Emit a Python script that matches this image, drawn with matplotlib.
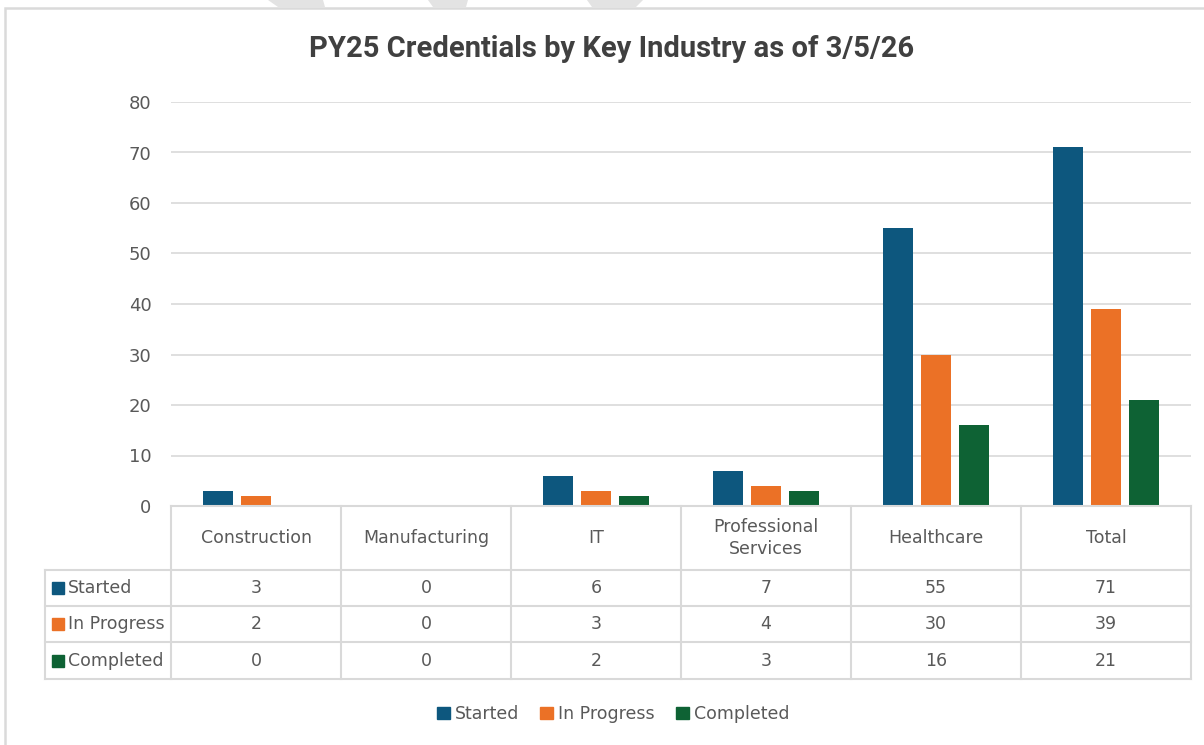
import matplotlib
matplotlib.use("Agg")
import matplotlib.pyplot as plt
from matplotlib.patches import Patch, Rectangle, Polygon
import numpy as np

categories = ["Construction", "Manufacturing", "IT", "Professional\nServices", "Healthcare", "Total"]
series_names = ["Started", "In Progress", "Completed"]
started = [3, 0, 6, 7, 55, 71]
in_progress = [2, 0, 3, 4, 30, 39]
completed = [0, 0, 2, 3, 16, 21]
yticks = [0, 10, 20, 30, 40, 50, 60, 70, 80]
title = "PY25 Credentials by Key Industry as of 3/5/26"

colors = ["#0D577E", "#EB7126", "#0E6234"]
text_color = "#595959"
grid_color = "#D9D9D9"
series = [started, in_progress, completed]

W, H = 1204, 745
fig = plt.figure(figsize=(W / 100, H / 100), dpi=100)
fig.patch.set_facecolor("white")

def fx(px):
    return px / W

def fy(py):
    return 1 - py / H

# faint watermark fragments above the chart frame
for pts in [[(268, 0), (323, 0), (325, 7), (278, 7)],
            [(428, 0), (468, 0), (466, 7), (433, 7)],
            [(587, 0), (643, 0), (636, 7), (592, 7)]]:
    fig.patches.append(Polygon([(fx(a), fy(b)) for a, b in pts], closed=True,
                               transform=fig.transFigure, facecolor="#E3E3E3", edgecolor="none"))

# chart border
border = Rectangle((fx(5), fy(760)), fx(1215) - fx(5), fy(8) - fy(760), transform=fig.transFigure,
                   fill=False, edgecolor="#DADADA", linewidth=1.8)
fig.patches.append(border)

# plot area
left_px, right_px, top_px, bot_px = 171, 1191, 102, 506
ax = fig.add_axes([fx(left_px), fy(bot_px), fx(right_px) - fx(left_px), fy(top_px) - fy(bot_px)])
n = len(categories)
x = np.arange(n) + 0.5
bw = 0.176
offs = [-0.224, 0.0, 0.224]
for s, vals, c, o in zip(series_names, series, colors, offs):
    ax.bar(x + o, vals, width=bw, color=c, zorder=3, label=s)
ax.set_xlim(0, n)
ax.set_ylim(0, 80)
ax.set_yticks(yticks)
ax.set_xticks([])
ax.tick_params(axis="y", length=0, pad=14, labelsize=13, labelcolor=text_color)
ax.grid(axis="y", color=grid_color, linewidth=1.2, zorder=0)
for sp in ax.spines.values():
    sp.set_visible(False)

# data table below the chart
tleft_px = 45
tbot_px = 679
tax = fig.add_axes([fx(tleft_px), fy(tbot_px), fx(right_px) - fx(tleft_px), fy(bot_px) - fy(tbot_px)])
col_w_px = (right_px - left_px) / n
x0 = -(left_px - tleft_px) / col_w_px
tax.set_xlim(x0, n)
tax.set_ylim(tbot_px - bot_px, 0)
tax.axis("off")
row_edges = [0, 64, 100, 136, 173]
lc = "#D9D9D9"
lw = 1.5
tax.plot([0, n], [0, 0], color=lc, lw=lw, clip_on=False)
for yv in row_edges[1:]:
    tax.plot([x0, n], [yv, yv], color=lc, lw=lw, clip_on=False)
tax.plot([x0, x0], [row_edges[1], row_edges[-1]], color=lc, lw=lw, clip_on=False)
for i in range(n + 1):
    tax.plot([i, i], [0, row_edges[-1]], color=lc, lw=lw, clip_on=False)
fs = 12.5
for i, cat in enumerate(categories):
    tax.text(i + 0.5, (row_edges[0] + row_edges[1]) / 2, cat, ha="center", va="center",
             fontsize=fs, color=text_color, linespacing=1.3)
for r, (s, vals, c) in enumerate(zip(series_names, series, colors)):
    yc = (row_edges[r + 1] + row_edges[r + 2]) / 2
    tax.add_patch(Rectangle((x0 + 7 / col_w_px, yc - 6), 12 / col_w_px, 12, color=c, clip_on=False))
    tax.text(x0 + 23 / col_w_px, yc, s, ha="left", va="center", fontsize=fs, color=text_color)
    for i, v in enumerate(vals):
        tax.text(i + 0.5, yc, str(v), ha="center", va="center", fontsize=fs, color=text_color)

# title
fig.text(fx(612), fy(49), title, ha="center", va="center", fontsize=21, fontweight="bold",
         color="#404040", family=["Roboto", "DejaVu Sans"])

# legend
handles = [Patch(facecolor=c, edgecolor=c) for c in colors]
fig.legend(handles, series_names, loc="center", bbox_to_anchor=(fx(613), fy(714)), ncol=3,
           frameon=False, fontsize=12.5, labelcolor=text_color, handlelength=0.75, handleheight=0.75,
           handletextpad=0.3, columnspacing=1.2)

fig.savefig("out.png", dpi=100)
